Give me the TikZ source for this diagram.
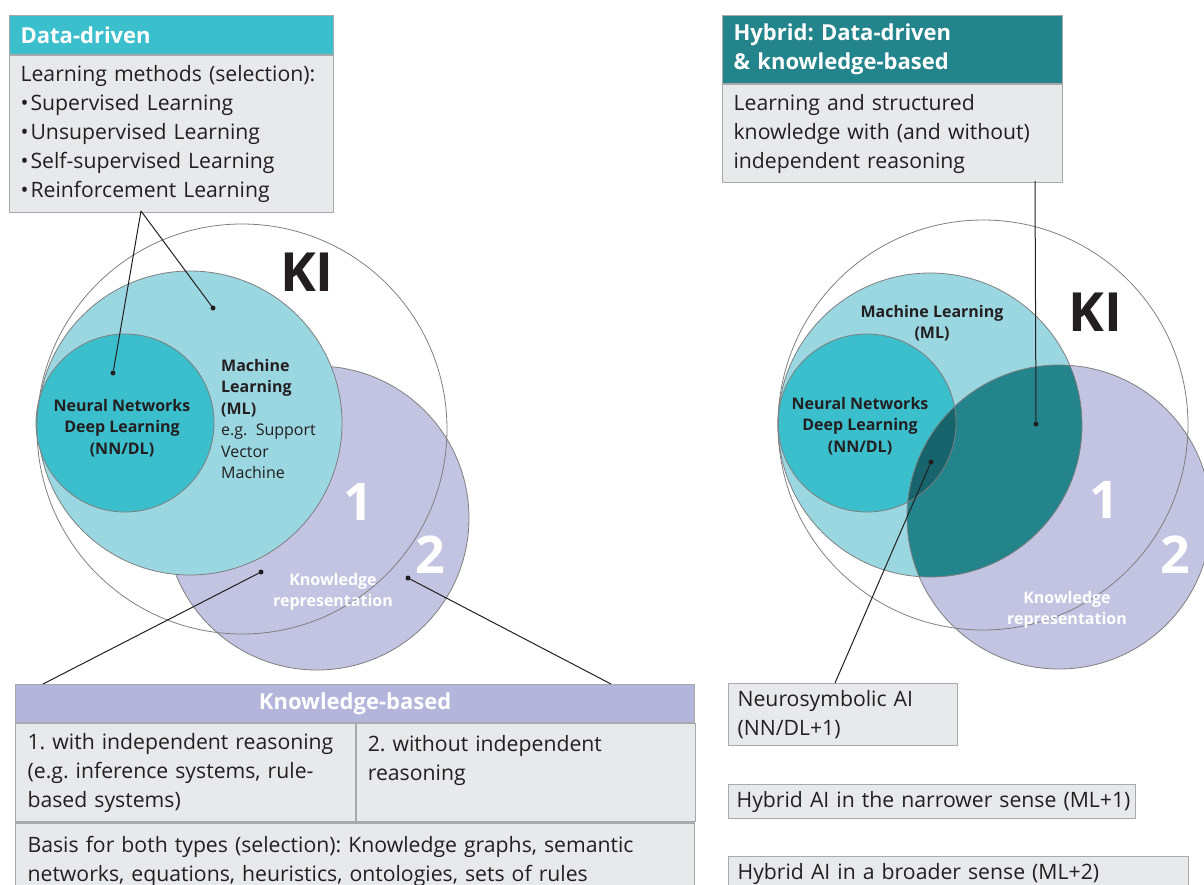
\documentclass[tikz,border=0pt]{standalone}
\usepackage{fontspec}
\setmainfont{Open Sans}
\usetikzlibrary{positioning}
\frenchspacing

\definecolor{nncyan}{HTML}{3BBFCD}
\definecolor{mlcyan}{HTML}{9BD7E1}
\definecolor{krlav}{HTML}{C2C4E2}
\definecolor{kbhead}{HTML}{B3B5DB}
\definecolor{hybteal}{HTML}{23848C}
\definecolor{nsteal}{HTML}{17646C}
\definecolor{boxgray}{HTML}{E8E9EB}
\definecolor{edgegray}{HTML}{A7A9AC}
\definecolor{ringgray}{HTML}{7F7F7F}
\definecolor{ink}{HTML}{231F20}

\def\rbig{152pt}
\def\rki{205pt}
\def\rnn{89pt}

\begin{document}
\begin{tikzpicture}[x=1pt, y=-1pt,
    nodes = {font=\fontsize{21.2}{29}\selectfont, text=ink, inner sep=0pt},
    head/.style = {fill=#1, draw=edgegray, line width=1.2pt, anchor=north west,
      text=white, align=left, inner xsep=11pt,
      font=\fontsize{22}{29}\bfseries\selectfont},
    infobox/.style = {fill=boxgray, draw=edgegray, line width=1.2pt,
      anchor=north west, align=left, inner xsep=11pt},
    ring/.style = {draw=ringgray, line width=0.8pt},
    lbl/.style = {align=center, font=\fontsize{16}{21.5}\bfseries\selectfont},
    krlbl/.style = {lbl, text=white},
    bignum/.style = {text=white, font=\fontsize{52}{52}\bfseries\selectfont},
    kilbl/.style = {font=\fontsize{54}{54}\bfseries\selectfont},
    dot/.style = {circle, fill=ink, minimum size=5pt},
    lead/.style = {draw=ink, line width=1pt}]

  \clip (0,0) rectangle (1204,884);

  % ---- left diagram: data-driven / knowledge-based
  \fill[krlav] (317,518) circle[radius=\rbig];
  \draw[ring] (317,518) circle[radius=\rbig];
  \fill[mlcyan] (190,423) circle[radius=\rbig];
  \draw[ring] (190,423) circle[radius=\rbig];
  \fill[nncyan] (125,423) circle[radius=\rnn];
  \draw[ring] (125,423) circle[radius=\rnn];
  \draw[ring] (242,429) circle[radius=\rki];

  \node[kilbl] (kiL) at (307,272) {KI};
  \node[bignum] (oneL) at (358,502) {1};
  \node[bignum] (twoL) at (430,555) {2};
  \node[lbl] (nnL) at (122,428) {Neural Networks\\Deep Learning\\(NN/DL)};
  \node[lbl, anchor=west, align=left, font=\fontsize{16}{21.5}\selectfont] (mlL)
    at (221,419) {\textbf{Machine}\\\textbf{Learning}\\\textbf{(ML)}\\e.g.\ \ Support\\Vector\\Machine};
  \node[krlbl] (krL) at (333,592) {Knowledge\\representation};

  \node[dot] (nnDot) at (113,373) {};
  \node[dot] (mlDot) at (213,308) {};
  \node[dot] (kr1Dot) at (261,572) {};
  \node[dot] (kr2Dot) at (408,578) {};

  % data-driven box
  \node[head=nncyan, text width=302pt, minimum height=39pt] (dd) at (9,15) {Data-driven};
  \node[infobox, text width=302pt, minimum height=157pt] (ddbody) at (dd.south west)
    {Learning methods (selection):\\
     \textbullet\hspace{2pt}Supervised Learning\\
     \textbullet\hspace{2pt}Unsupervised Learning\\
     \textbullet\hspace{2pt}Self-supervised Learning\\
     \textbullet\hspace{2pt}Reinforcement Learning};
  \coordinate (ddfoot) at (141,211);
  \draw[lead] (ddfoot) -- (nnDot);
  \draw[lead] (ddfoot) -- (mlDot);

  % knowledge-based table
  \node[head=kbhead, align=center, text width=657pt, minimum height=38pt] (kb) at (15,684) {Knowledge-based};
  \node[infobox, text width=316pt, minimum height=98pt, inner xsep=12pt] (kb1) at (kb.south west)
    {1. with independent reasoning\\(e.g. inference systems, rule-\\based systems)};
  \node[infobox, text width=317pt, minimum height=98pt] (kb2) at (kb1.north east)
    {2. without independent\\reasoning\\\mbox{}};
  \node[infobox, text width=655pt, minimum height=76pt, inner xsep=12pt] (kbbase) at (kb1.south west)
    {Basis for both types (selection): Knowledge graphs, semantic\\
     networks, equations, heuristics, ontologies, sets of rules};
  \coordinate (kbfootL) at (43,684);
  \coordinate (kbfootR) at (611,684);
  \draw[lead] (kbfootL) -- (kr1Dot);
  \draw[lead] (kbfootR) -- (kr2Dot);

  % ---- right diagram: hybrid
  \fill[krlav] (1059,517) circle[radius=\rbig];
  \fill[mlcyan] (930,425) circle[radius=\rbig];
  \fill[nncyan] (867,423) circle[radius=\rnn];
  \begin{scope}
    \clip (1059,517) circle[radius=\rbig];
    \fill[hybteal] (930,425) circle[radius=\rbig];
    \fill[nsteal] (867,423) circle[radius=\rnn];
  \end{scope}
  \draw[ring] (1059,517) circle[radius=\rbig];
  \draw[ring] (930,425) circle[radius=\rbig];
  \draw[ring] (867,423) circle[radius=\rnn];
  \draw[ring] (983,425) circle[radius=\rki];

  \node[kilbl] (kiR) at (1095,312) {KI};
  \node[bignum] (oneR) at (1104,500) {1};
  \node[bignum] (twoR) at (1175,555) {2};
  \node[lbl] (mlR) at (932,323) {Machine Learning\\(ML)};
  \node[lbl] (nnR) at (860,426) {Neural Networks\\Deep Learning\\(NN/DL)};
  \node[krlbl] (krR) at (1067,610) {Knowledge\\representation};

  \node[dot] (hybDot) at (1036,424) {};
  \node[dot] (nsDot) at (931,462) {};

  % hybrid box
  \node[head=hybteal, text width=318pt, minimum height=68pt] (hyb) at (722,15)
    {Hybrid: Data-driven\\\& knowledge-based};
  \node[infobox, text width=318pt, minimum height=98pt] (hybbody) at (hyb.south west)
    {Learning and structured\\knowledge with (and without)\\independent reasoning};
  \coordinate (hybfoot) at (1035,181);
  \draw[lead] (hybfoot) -- (hybDot);

  % kinds of hybrid AI
  \node[infobox, text width=211pt, minimum height=62pt, inner xsep=9pt] (nsai) at (728,683)
    {Neurosymbolic AI\\(NN/DL+1)};
  \node[infobox, text width=397pt, minimum height=34pt, inner xsep=5pt] (narrow) at (728,784)
    {\hspace{3pt}Hybrid AI in the narrower sense (ML+1)};
  \node[infobox, text width=442pt, minimum height=34pt, inner xsep=9pt] (broad) at (728,856)
    {Hybrid AI in a broader sense (ML+2)};
  \coordinate (nsfoot) at (835,683);
  \draw[lead] (nsfoot) -- (nsDot);
\end{tikzpicture}
\end{document}
